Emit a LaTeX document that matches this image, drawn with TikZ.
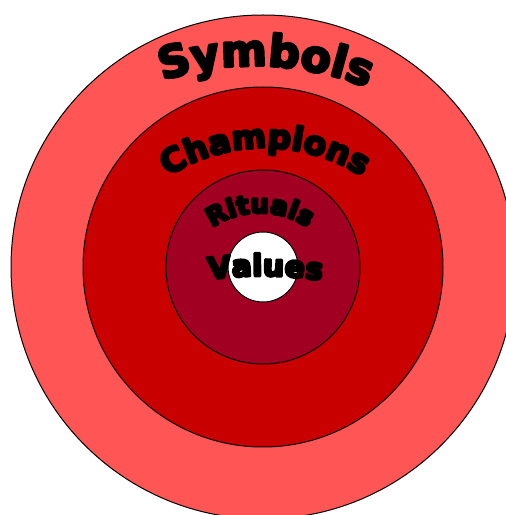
\documentclass[tikz,border=0pt]{standalone}
\usepackage{fontspec}
\newfontfamily\wa{DejaVu Sans Bold}
\newcommand\heavyink{\special{pdf:code 2 Tr 2.6 w 1 j 0 0 0 RG}}
\usetikzlibrary{decorations.text}
\definecolor{ringA}{RGB}{255,85,85}
\definecolor{ringB}{RGB}{200,0,0}
\definecolor{ringC}{RGB}{162,0,34}
\tikzset{
  ring/.style={draw=black, line width=1pt},
  arctext/.style={decorate, decoration={text along path, text align=center, text={#1}}}
}
\begin{document}
\begin{tikzpicture}[x=1pt,y=1pt]
\clip (0,0) rectangle (506,515);
\fill[white] (0,0) rectangle (506,515);
\coordinate (c) at (263,248);
\fill[ring, fill=ringA] (c) circle (252);
\fill[ring, fill=ringB] (c) circle (180);
\fill[ring, fill=ringC] (c) circle (97);
\fill[ring, fill=white] (c) circle (35);
% arched labels
\coordinate (sym) at (255,145);
\coordinate (cha) at (265,187);
\coordinate (rit) at (260,217);
\coordinate (val) at (262,-161);
\path[arctext={|\heavyink\wa\fontsize{44}{44}\selectfont|Symbols}] (sym) ++(112:304) arc (112:64:304);
\path[arctext={|\heavyink\wa\fontsize{33}{33}\selectfont|Champions}] (cha) ++(130:180) arc (130:50:180);
\path[arctext={|\heavyink\wa\fontsize{26}{26}\selectfont|Rituals}] (rit) ++(145:85) arc (145:35:85);
\path[arctext={|\heavyink\wa\fontsize{30}{30}\selectfont|Values}] (val) ++(100:400) arc (100:79:400);
\end{tikzpicture}
\end{document}
